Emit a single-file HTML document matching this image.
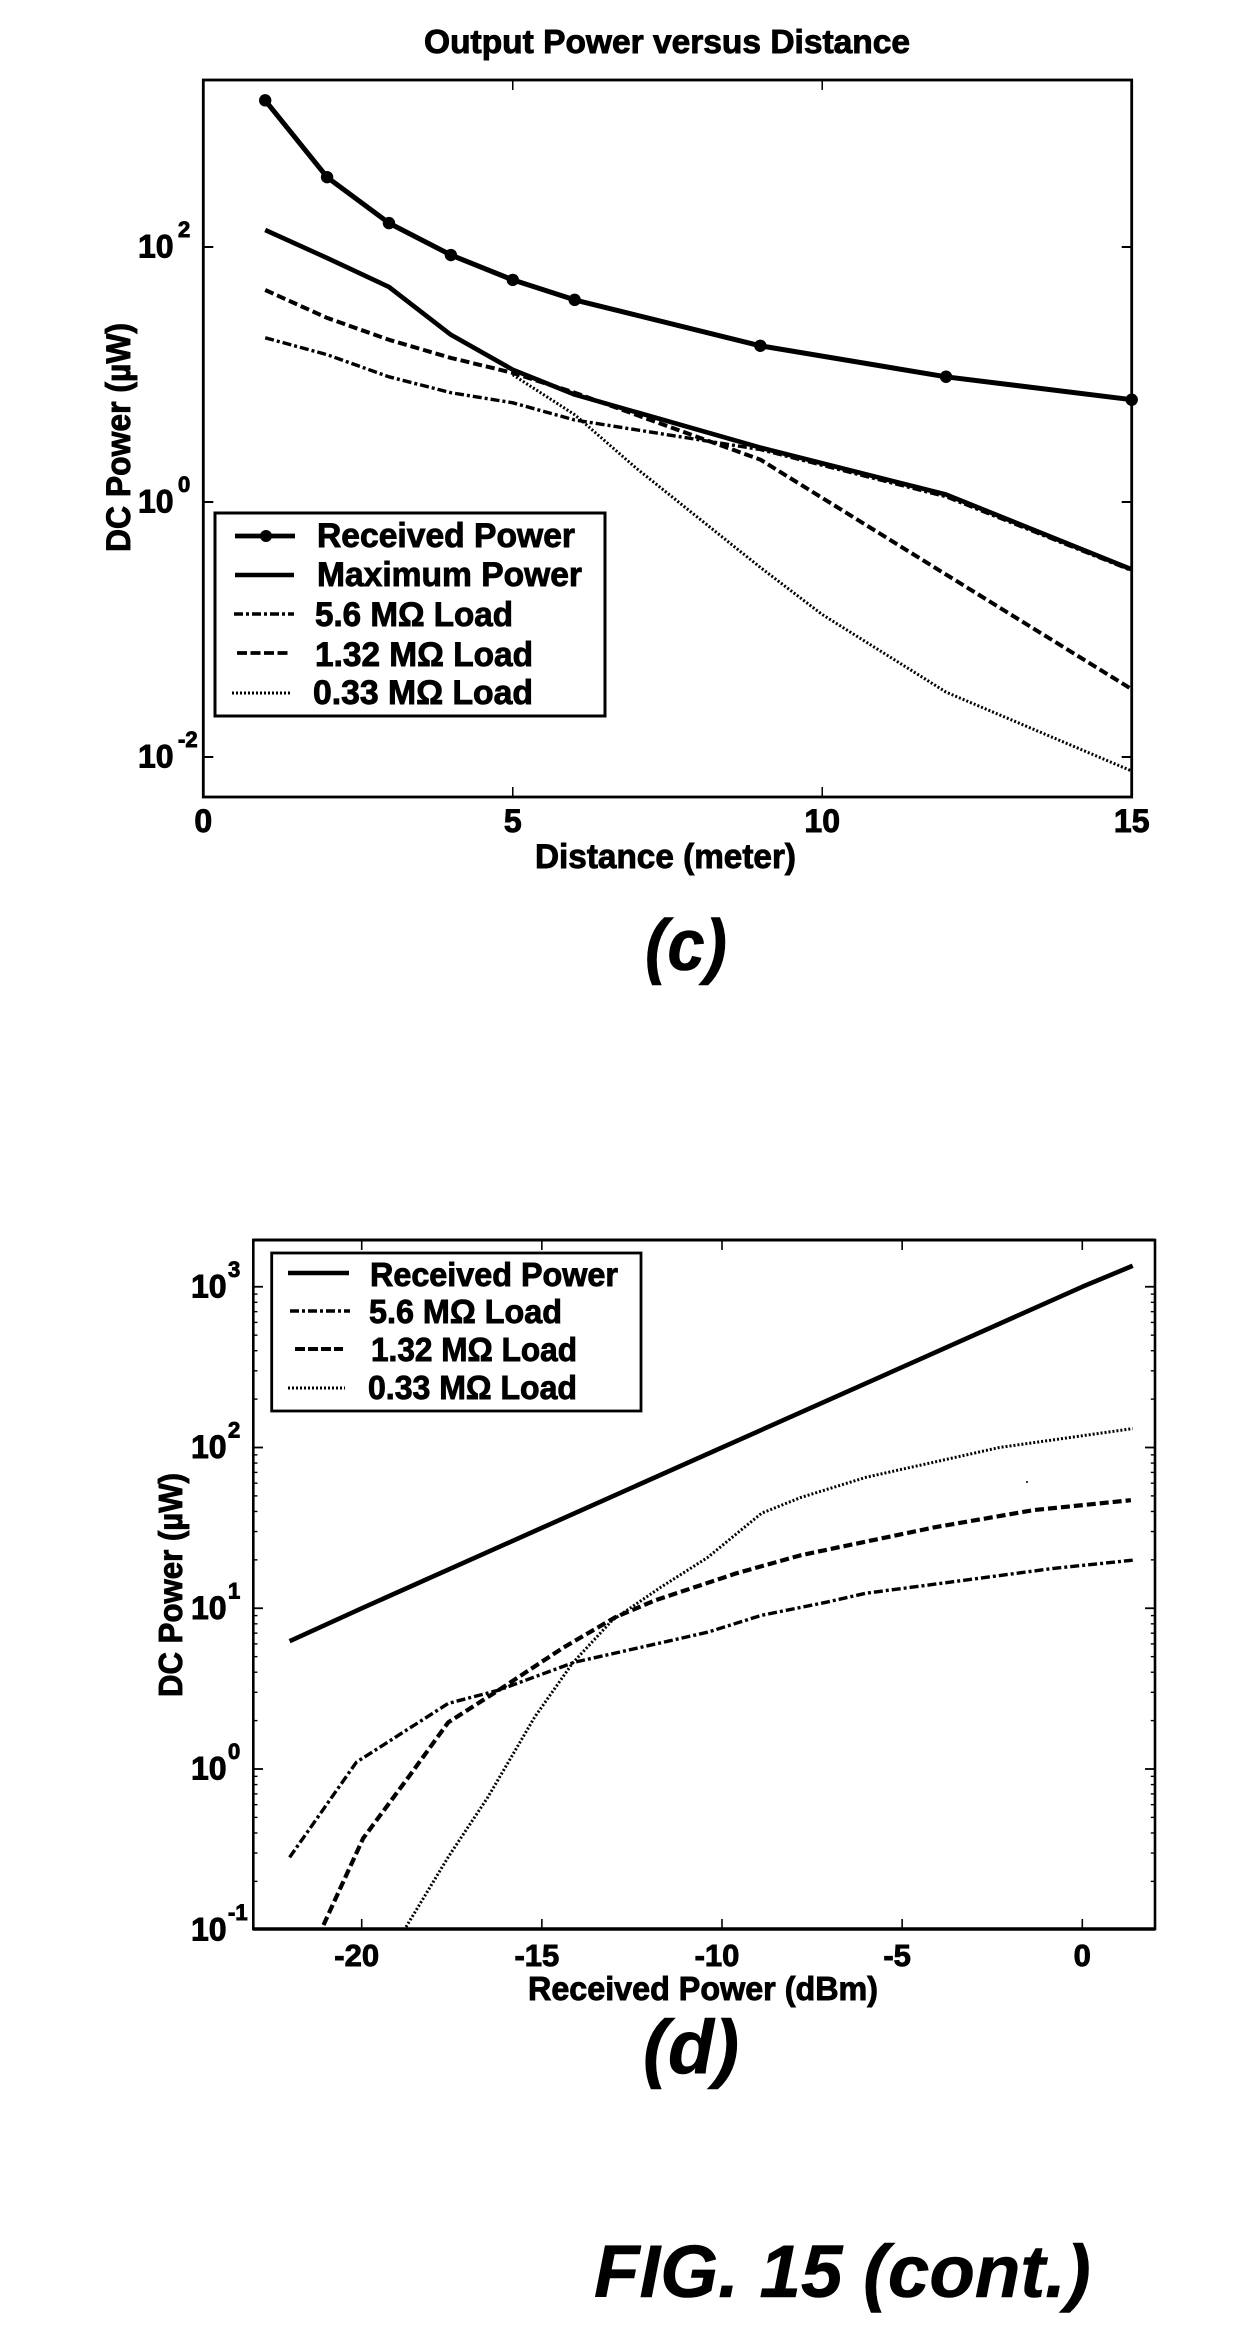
<!DOCTYPE html>
<html lang="en">
<head>
<meta charset="utf-8">
<title>Output Power versus Distance - FIG. 15 (cont.)</title>
<style>
html,body{margin:0;padding:0;background:#fff;}
svg{display:block;}
text{font-family:"Liberation Sans",Arial,sans-serif;font-weight:bold;fill:#000;stroke:#000;stroke-width:.9px;}
.big{font-style:italic;stroke-width:.6px;}
</style>
</head>
<body>
<svg id="fig" xmlns="http://www.w3.org/2000/svg" width="1243" height="2337" viewBox="0 0 1243 2337">
  <rect x="0" y="0" width="1243" height="2337" fill="#fff"/>
  <defs>
    <clipPath id="clipC"><rect x="203" y="80" width="930" height="717"/></clipPath>
    <clipPath id="clipD"><rect x="253" y="1240" width="902" height="689"/></clipPath>
  </defs>

  <g id="chartC">
    <text x="424" y="53" font-size="33" textLength="486" lengthAdjust="spacingAndGlyphs">Output Power versus Distance</text>
    <rect x="203.3" y="80" width="928.4" height="717" fill="none" stroke="#000" stroke-width="2.8"/>
    <g id="cTicks"></g>
    <g id="cSeries" clip-path="url(#clipC)"></g>
    <text x="535" y="868" font-size="34" textLength="261" lengthAdjust="spacingAndGlyphs">Distance (meter)</text>
    <text transform="translate(130,552) rotate(-90)" font-size="34" textLength="229" lengthAdjust="spacingAndGlyphs">DC Power (µW)</text>

    <g>
      <rect x="215" y="513" width="390" height="203" fill="#fff" stroke="#000" stroke-width="3"/>
      <line x1="235" y1="536" x2="295" y2="536" stroke="#000" stroke-width="4.8"/>
      <circle cx="266" cy="536" r="6" fill="#000"/>
      <text x="317" y="547" font-size="34" textLength="258" lengthAdjust="spacingAndGlyphs">Received Power</text>
      <line x1="235" y1="575" x2="294" y2="575" stroke="#000" stroke-width="4.6"/>
      <text x="317" y="586" font-size="34" textLength="265" lengthAdjust="spacingAndGlyphs">Maximum Power</text>
      <line x1="234" y1="614" x2="294" y2="614" stroke="#000" stroke-width="3.4" stroke-dasharray="9 3 3 3"/>
      <text x="315" y="626" font-size="34" textLength="198" lengthAdjust="spacingAndGlyphs">5.6 MΩ Load</text>
      <line x1="237" y1="653" x2="290" y2="653" stroke="#000" stroke-width="3.8" stroke-dasharray="10 3.5"/>
      <text x="315" y="666" font-size="34" textLength="218" lengthAdjust="spacingAndGlyphs">1.32 MΩ Load</text>
      <line x1="232" y1="693" x2="290" y2="693" stroke="#000" stroke-width="3" stroke-dasharray="2 2"/>
      <text x="313" y="704" font-size="34" textLength="220" lengthAdjust="spacingAndGlyphs">0.33 MΩ Load</text>
    </g>
  </g>
  <text class="big" x="645" y="970" font-size="72" textLength="82" lengthAdjust="spacingAndGlyphs">(c)</text>

  <g id="chartD">
    <rect x="253.3" y="1240" width="901.7" height="689" fill="none" stroke="#000" stroke-width="2.6"/>
    <line x1="253" y1="1240" x2="1155" y2="1240" stroke="#000" stroke-width="3"/>
    <line x1="253" y1="1929" x2="1155" y2="1929" stroke="#000" stroke-width="3.6"/>
    <g id="dTicks"></g>
    <g id="dSeries" clip-path="url(#clipD)"></g>
    <circle cx="1027" cy="1482" r="1" fill="#000"/>
    <text x="528" y="2000" font-size="33" textLength="350" lengthAdjust="spacingAndGlyphs">Received Power (dBm)</text>
    <text transform="translate(182,1697) rotate(-90)" font-size="33" textLength="224" lengthAdjust="spacingAndGlyphs">DC Power (µW)</text>

    <g>
      <rect x="271.7" y="1253" width="369.3" height="158" fill="#fff" stroke="#000" stroke-width="2.8"/>
      <line x1="288" y1="1273" x2="349" y2="1273" stroke="#000" stroke-width="4.4"/>
      <text x="370" y="1286" font-size="33" textLength="248" lengthAdjust="spacingAndGlyphs">Received Power</text>
      <line x1="290" y1="1311" x2="350" y2="1311" stroke="#000" stroke-width="3.4" stroke-dasharray="9 3 3 3"/>
      <text x="369" y="1323" font-size="33" textLength="193" lengthAdjust="spacingAndGlyphs">5.6 MΩ Load</text>
      <line x1="295" y1="1349" x2="343" y2="1349" stroke="#000" stroke-width="4" stroke-dasharray="10 3"/>
      <text x="371" y="1361" font-size="33" textLength="206" lengthAdjust="spacingAndGlyphs">1.32 MΩ Load</text>
      <line x1="288" y1="1388" x2="345" y2="1388" stroke="#000" stroke-width="3" stroke-dasharray="2 2"/>
      <text x="368" y="1399" font-size="33" textLength="209" lengthAdjust="spacingAndGlyphs">0.33 MΩ Load</text>
    </g>
  </g>
  <text class="big" x="643" y="2073" font-size="76" textLength="96" lengthAdjust="spacingAndGlyphs">(d)</text>
  <text class="big" x="594" y="2297" font-size="74.5">FIG. 15 (cont.)</text>
</svg>

<script>
// Chart (c) data
const cDistance = [1, 2, 3, 4, 5, 6, 9, 12, 15];
const cReceivedPower = [1413, 353, 154, 86.5, 55.2, 38.5, 16.8, 9.6, 6.34];
const cMaximumPower = [136, 82, 48.6, 20.5, 10.9, 6.95, 2.67, 1.146, 0.296];
const cLoad56 = [19.4, 14.3, 9.6, 7.2, 6, 4.4, 2.58, 1.1, 0.29];
const cLoad132 = [46, 27.8, 18.7, 13.5, 10.3, 7.2, 2.15, 0.27, 0.034];
const cLoad033Distance = [5, 6, 7, 9, 10, 12, 15];
const cLoad033 = [9.95, 4.84, 1.83, 0.307, 0.131, 0.0323, 0.00776];
const cXTickValues = [0, 5, 10, 15];
const cYTickExponents = [2, 0, -2];

// Chart (d) data
const dReceivedInput = [-22, -20, -15, -10, -5, 0, 1.4];
const dReceivedPower = [6.24, 10, 31.6, 100, 316, 1000, 1350];
const dLoad56Input = [-22, -20.15, -17.6, -16.2, -14.1, -11.5, -10.4, -8.9, -7.1, -6, -3.7, -0.8, 1.4];
const dLoad56 = [0.282, 1.1, 2.56, 3.09, 4.61, 6.24, 7.1, 9.04, 10.9, 12.4, 14.5, 17.7, 19.9];
const dLoad132Input = [-21.06, -19.96, -18.7, -17.6, -16.2, -14.4, -12.96, -11.85, -9.6, -7.8, -4.1, -1.35, 1.35];
const dLoad132 = [0.107, 0.37, 0.89, 1.95, 3.09, 5.7, 8.8, 11.2, 16.5, 21.4, 31.9, 40.8, 47];
const dLoad033Input = [-18.77, -17.6, -16.5, -15.2, -14.15, -13.05, -11.7, -10.4, -8.9, -7.8, -6, -2.3, 1.4];
const dLoad033 = [0.104, 0.283, 0.667, 2.1, 4.55, 8.4, 13.5, 20.7, 39, 49, 65.3, 100, 131];
const dXTickValues = [-20, -15, -10, -5, 0];
const dYTickExponents = [3, 2, 1, 0, -1];
const dMinorMultiples = [2, 3, 4, 5, 6, 7, 8, 9];

const SVGNS = 'http://www.w3.org/2000/svg';

function cXScale(v) { return 203.3 + v * (1131.7 - 203.3) / 15; }
function cYScale(v) { return 502 - Math.log10(v) * 127.5; }
function dXScale(v) { return 1082.3 + v * 36.03; }
function dYScale(v) { return 1769 - Math.log10(v) * 160.75; }

function drawLine(parent, xs, ys, xScale, yScale, width, dash) {
  const el = document.createElementNS(SVGNS, 'polyline');
  el.setAttribute('points', xs.map(function (x, i) { return xScale(x).toFixed(1) + ',' + yScale(ys[i]).toFixed(1); }).join(' '));
  el.setAttribute('fill', 'none');
  el.setAttribute('stroke', '#000');
  el.setAttribute('stroke-width', width);
  el.setAttribute('stroke-linejoin', 'round');
  if (dash) el.setAttribute('stroke-dasharray', dash);
  parent.appendChild(el);
  return el;
}

function drawTick(parent, x1, y1, x2, y2, width) {
  const el = document.createElementNS(SVGNS, 'line');
  el.setAttribute('x1', x1);
  el.setAttribute('y1', y1);
  el.setAttribute('x2', x2);
  el.setAttribute('y2', y2);
  el.setAttribute('stroke', '#000');
  el.setAttribute('stroke-width', width);
  parent.appendChild(el);
  return el;
}

function drawXLabel(parent, x, y, size, value) {
  const el = document.createElementNS(SVGNS, 'text');
  el.setAttribute('x', x);
  el.setAttribute('y', y);
  el.setAttribute('font-size', size);
  el.setAttribute('text-anchor', 'middle');
  el.textContent = String(value);
  parent.appendChild(el);
  return el;
}

function drawYLabel(parent, x, supX, tickY, exponent) {
  const el = document.createElementNS(SVGNS, 'text');
  el.setAttribute('x', x);
  el.setAttribute('y', tickY + 10.5);
  el.setAttribute('font-size', 32);
  el.textContent = '10';
  const sup = document.createElementNS(SVGNS, 'tspan');
  sup.setAttribute('x', supX);
  sup.setAttribute('y', tickY - 10);
  sup.setAttribute('font-size', 22);
  sup.textContent = String(exponent);
  el.appendChild(sup);
  parent.appendChild(el);
  return el;
}

// ---- Chart (c) ----
const cSeries = document.getElementById('cSeries');
const cTicks = document.getElementById('cTicks');

const cLine033 = drawLine(cSeries, cLoad033Distance, cLoad033, cXScale, cYScale, 3, '2 2');



const cLine132 = drawLine(cSeries, cDistance, cLoad132, cXScale, cYScale, 4, '9 4');



const cLine56 = drawLine(cSeries, cDistance, cLoad56, cXScale, cYScale, 3.4, '9 3 3 3');



const cLineMax = drawLine(cSeries, cDistance, cMaximumPower, cXScale, cYScale, 4.6);



const cLineRec = drawLine(cSeries, cDistance, cReceivedPower, cXScale, cYScale, 5);



cDistance.forEach(function (d, i) {
  const dot = document.createElementNS(SVGNS, 'circle');
  dot.setAttribute('cx', cXScale(d));
  dot.setAttribute('cy', cYScale(cReceivedPower[i]));
  dot.setAttribute('r', 6.2);
  dot.setAttribute('fill', '#000');
  
  
  document.getElementById('chartC').appendChild(dot);
});

cXTickValues.forEach(function (v) {
  const x = cXScale(v);
  if (v > 0 && v < 15) {
    const top = drawTick(cTicks, x, 80, x, 90, 1.5);
    
    
    const bottom = drawTick(cTicks, x, 797, x, 787, 1.5);
    
    
  }
  const label = drawXLabel(cTicks, x, 832, 32, v);
  
  
});

cYTickExponents.forEach(function (e) {
  const y = cYScale(Math.pow(10, e));
  const left = drawTick(cTicks, 203.3, y, 213.3, y, 2);
  
  
  const right = drawTick(cTicks, 1131.7, y, 1121.7, y, 2);
  
  
  const label = drawYLabel(cTicks, 138, 178, y, e);
  
  
});

// ---- Chart (d) ----
const dSeries = document.getElementById('dSeries');
const dTicks = document.getElementById('dTicks');

const dLine033 = drawLine(dSeries, dLoad033Input, dLoad033, dXScale, dYScale, 3, '2 2');



const dLine132 = drawLine(dSeries, dLoad132Input, dLoad132, dXScale, dYScale, 4.2, '9 4');



const dLine56 = drawLine(dSeries, dLoad56Input, dLoad56, dXScale, dYScale, 3.4, '9 3 3 3');



const dLineRec = drawLine(dSeries, dReceivedInput, dReceivedPower, dXScale, dYScale, 4.6);



dXTickValues.forEach(function (v) {
  const x = dXScale(v);
  const top = drawTick(dTicks, x, 1240, x, 1250, 1.6);
  
  
  const bottom = drawTick(dTicks, x, 1929, x, 1919, 1.6);
  
  
  const labelX = v < 0 ? x - 5 : x;
  const label = drawXLabel(dTicks, labelX, 1966, 31, v);
  
  
});

dYTickExponents.forEach(function (e) {
  const y = dYScale(Math.pow(10, e));
  if (e > -1) {
    const left = drawTick(dTicks, 253.3, y, 263, y, 1.8);
    
    
    const right = drawTick(dTicks, 1155, y, 1145, y, 1.8);
    
    
  }
  const label = drawYLabel(dTicks, 191, 228, y, e);
  
  
  if (e < 3) {
    dMinorMultiples.forEach(function (m) {
      const my = dYScale(m * Math.pow(10, e));
      const minorLeft = drawTick(dTicks, 253.3, my, 257.5, my, 1.4);
      
      
      const minorRight = drawTick(dTicks, 1155, my, 1150.8, my, 1.4);
      
      
    });
  }
});
</script>
</body>
</html>
